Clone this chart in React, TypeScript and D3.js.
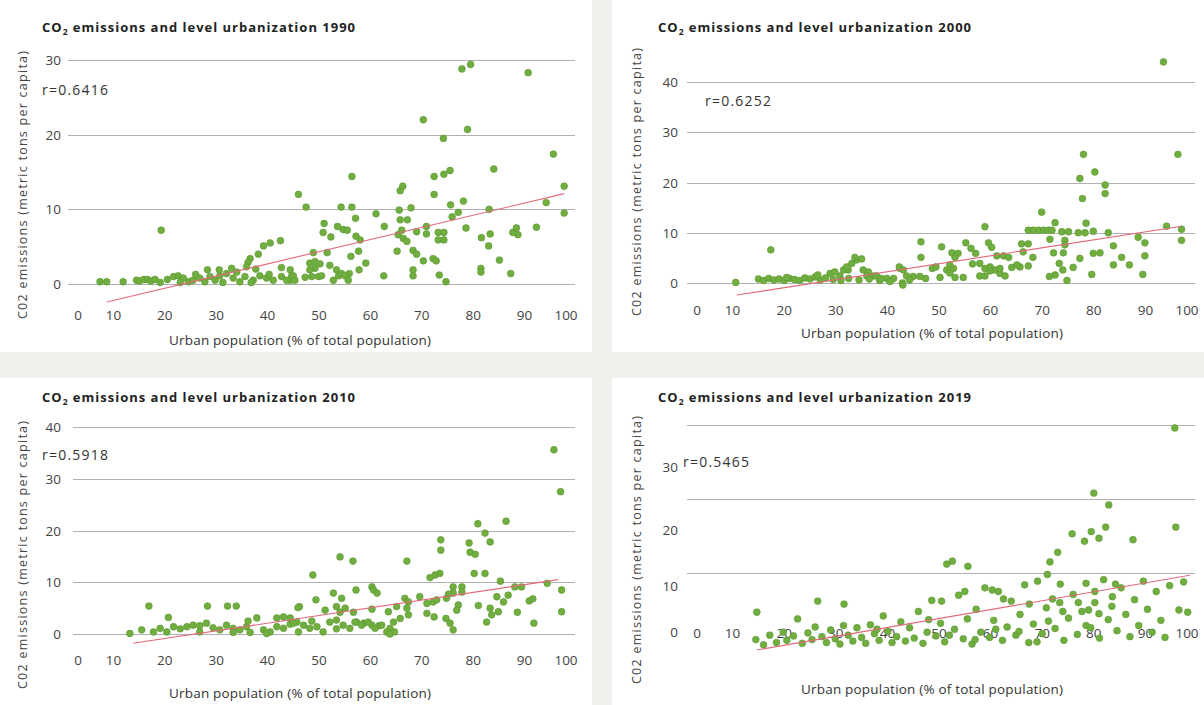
import React from 'react';
import * as d3 from 'd3';

type Pt = [number, number];

const titleBase = 'emissions and level urbanization';
const years = ['1990', '2000', '2010', '2019'];
const rLabels = ['r=0.6416', 'r=0.6252', 'r=0.5918', 'r=0.5465'];
const xTicks = [0, 10, 20, 30, 40, 50, 60, 70, 80, 90, 100];
const yTicks1990 = [0, 10, 20, 30];
const yTicks2000 = [0, 10, 20, 30, 40];
const yTicks2010 = [0, 10, 20, 30, 40];
const yTicks2019 = [0, 10, 20, 30];
const xTitle = 'Urban population (% of total population)';
const yTitle = 'C02 emissions (metric tons per capita)';

const pts1990: Pt[] = [
  [77.8, 28.8], [79.5, 29.4], [90.7, 28.3], [70.3, 22.0], [78.9, 20.7], [74.2, 19.5], [95.6, 17.4], [56.4, 14.4],
  [72.4, 14.4], [74.3, 14.7], [75.5, 15.2], [84.0, 15.4], [46.0, 12.0], [97.7, 13.1], [65.8, 12.5], [66.3, 13.1],
  [72.4, 12.0], [19.3, 7.2],
  [47.5, 10.3], [54.3, 10.3], [56.4, 10.3], [65.6, 9.9], [67.9, 10.2], [75.6, 10.6], [78.1, 11.1], [77.1, 9.6],
  [75.9, 9.0], [83.1, 10.0], [94.2, 10.9], [97.7, 9.5], [61.1, 9.4], [57.1, 8.8], [51.0, 8.1], [65.8, 8.6],
  [67.2, 8.6], [53.6, 7.7], [54.7, 7.3], [55.5, 7.2], [50.8, 6.9], [52.3, 6.3], [57.2, 6.4], [58.0, 5.9],
  [62.7, 7.7], [66.1, 7.2], [65.4, 6.6], [66.4, 6.1], [67.1, 5.7], [69.0, 7.0], [70.9, 7.7], [70.9, 6.7],
  [73.2, 6.9], [74.3, 6.9], [73.2, 5.9], [74.3, 5.9], [78.6, 7.5], [81.6, 6.2], [83.3, 6.7], [83.0, 5.1],
  [87.7, 6.9], [88.4, 7.5], [88.7, 6.6], [92.3, 7.6],
  [48.9, 4.2], [51.6, 4.2], [56.2, 3.7], [57.7, 4.4], [59.1, 2.8], [65.2, 4.4], [68.3, 4.5], [69.0, 4.0],
  [70.3, 3.1], [72.2, 3.4], [72.8, 3.1], [85.1, 3.2], [81.5, 2.1], [81.5, 1.6], [87.3, 1.4], [73.4, 1.2],
  [74.7, 0.3], [68.3, 1.9], [68.3, 1.1], [62.6, 1.1], [57.8, 1.9], [55.9, 1.4],
  [48.2, 2.8], [49.2, 3.0], [50.2, 2.7], [49.2, 2.1], [48.2, 1.9], [47.3, 0.9], [48.6, 1.0], [49.9, 1.0],
  [50.5, 1.1], [52.8, 0.5], [53.8, 1.1], [54.4, 1.4], [55.1, 1.1], [55.7, 0.5], [52.1, 2.5], [53.4, 1.9],
  [44.4, 1.9], [44.7, 1.1], [44.4, 0.5],
  [42.5, 5.8], [40.5, 5.5], [39.2, 5.1], [38.2, 4.0], [36.6, 3.4], [36.2, 2.9], [37.7, 2.0], [35.9, 2.3],
  [28.3, 1.9], [30.6, 1.9], [33.0, 2.1], [42.7, 2.2], [45.0, 1.1], [45.3, 0.5], [7.4, 0.3], [8.7, 0.3],
  [11.9, 0.3], [14.5, 0.5], [15.1, 0.4], [15.9, 0.6], [16.6, 0.6], [17.3, 0.4], [18.1, 0.6], [19.1, 0.2],
  [21.7, 1.0], [22.6, 1.1], [23.6, 0.8], [24.6, 0.3], [25.5, 0.5], [26.8, 0.8], [27.8, 0.3], [28.8, 1.0],
  [29.8, 0.5], [30.7, 1.1], [32.0, 1.4], [33.3, 0.8], [34.6, 0.3], [35.6, 1.0], [37.2, 0.5], [38.5, 1.1],
  [39.8, 0.8], [41.1, 0.5], [42.7, 1.0], [43.7, 0.5], [20.5, 0.6], [23.0, 0.2], [26.0, 1.3], [31.3, 0.2],
  [34.0, 1.6], [36.8, 0.2], [40.3, 1.3],
];
const trend1990: Pt[] = [[8.7, -2.4], [97.7, 12.1]];

const pts2000: Pt[] = [
  [93.5, 44.0], [78.0, 25.6], [96.3, 25.6], [80.2, 22.1], [77.3, 20.8], [77.8, 16.8], [82.2, 19.5], [82.2, 17.8],
  [69.9, 14.1], [72.5, 12.0], [78.5, 11.9], [94.1, 11.3], [97.0, 10.7], [97.0, 8.5], [58.9, 11.2],
  [67.3, 10.5], [68.3, 10.5], [69.3, 10.5], [70.3, 10.5], [71.2, 10.5], [71.9, 10.5], [73.8, 10.2], [75.1, 10.2],
  [77.0, 10.0], [78.3, 10.0], [79.9, 10.3], [82.8, 10.0], [88.6, 9.1], [89.9, 8.0], [89.9, 5.4], [89.5, 1.7],
  [83.8, 7.4], [83.8, 3.6], [85.4, 5.1], [86.9, 3.6], [79.9, 5.9], [81.2, 6.0], [77.3, 4.9], [76.0, 3.1],
  [79.6, 1.7], [74.4, 8.5], [74.4, 7.6], [74.1, 6.0], [72.2, 6.0], [73.3, 3.9], [74.0, 2.6], [74.8, 0.5],
  [71.4, 1.3], [72.5, 1.6], [71.5, 8.7], [66.0, 7.8], [67.3, 7.8], [66.3, 6.2], [68.2, 5.1], [67.3, 3.4],
  [65.7, 3.2], [59.6, 8.0], [60.2, 7.1], [61.2, 5.4], [62.5, 5.4], [63.5, 5.1], [64.1, 3.1], [65.1, 3.6],
  [57.9, 3.9], [58.9, 2.9], [59.9, 3.2], [60.8, 2.6], [61.8, 1.9], [62.8, 1.4], [57.9, 1.4], [58.9, 1.4],
  [59.9, 2.4], [61.8, 2.9], [55.2, 8.0], [56.2, 6.9], [57.1, 5.9], [56.5, 3.8], [52.5, 6.0], [53.7, 5.9],
  [50.5, 7.2], [53.1, 5.1], [52.1, 3.6], [52.8, 2.9], [51.5, 2.6], [52.1, 2.0], [53.1, 1.1], [54.7, 1.1],
  [50.2, 1.1], [48.7, 2.9], [49.4, 3.2], [46.5, 8.2], [46.5, 5.1], [42.4, 2.9], [43.7, 1.4], [45.0, 1.3],
  [46.3, 1.3], [47.4, 0.9], [42.9, 0.0], [44.3, 0.6],
  [17.4, 6.6], [10.6, 0.1], [28.9, 1.9], [29.8, 2.2], [30.8, 1.4], [31.5, 2.6], [32.4, 2.6], [32.1, 3.2],
  [33.1, 3.9], [34.0, 4.6], [35.0, 4.8], [33.7, 5.1], [35.3, 2.6], [36.3, 2.2], [37.3, 1.4], [37.9, 1.4],
  [36.0, 1.4], [42.3, 3.2], [43.1, 2.6], [43.0, -0.4], [39.9, 0.9], [41.2, 0.9],
  [15.0, 0.8], [16.0, 0.5], [17.0, 0.9], [18.0, 0.6], [19.0, 0.8], [20.0, 0.5], [21.0, 0.9], [22.0, 0.7],
  [23.0, 0.5], [24.0, 1.0], [25.0, 0.8], [26.0, 1.2], [27.0, 0.6], [28.0, 1.0], [29.5, 0.7], [31.0, 0.5],
  [32.5, 0.9], [34.5, 0.6], [36.5, 0.8], [38.5, 0.5], [40.5, 0.3], [26.5, 1.6], [20.5, 1.1], [38.8, 0.9],
];
const trend2000: Pt[] = [[10.8, -2.4], [97.0, 11.3]];

const pts2010: Pt[] = [
  [95.7, 35.6], [97.0, 27.5], [80.9, 21.3], [86.4, 21.8], [82.3, 19.5], [73.7, 18.2], [79.2, 17.6], [83.3, 17.8],
  [73.7, 16.2], [79.4, 15.8], [80.4, 15.4], [54.1, 14.9], [56.6, 14.1], [67.1, 14.1], [48.8, 11.4], [71.6, 10.9],
  [72.6, 11.4], [73.5, 11.7], [80.2, 11.7], [82.3, 11.7], [85.3, 10.2], [88.1, 9.1], [89.4, 9.1], [94.4, 9.8],
  [97.2, 8.5], [97.2, 4.3], [76.1, 9.1], [77.8, 9.1], [77.8, 8.1], [76.1, 7.9], [57.2, 8.5], [60.3, 9.1],
  [60.6, 8.5], [61.3, 7.9], [52.8, 7.9], [54.4, 6.9], [49.4, 6.6], [46.2, 5.3], [51.2, 4.6], [53.4, 5.3],
  [55.1, 5.0], [56.7, 4.2], [54.1, 4.2],
  [60.3, 4.8], [63.5, 4.3], [65.1, 5.3], [66.7, 6.9], [67.4, 6.2], [67.1, 5.0], [67.4, 3.7], [65.8, 3.0],
  [64.5, 2.3], [63.8, 1.1], [64.7, 0.4], [61.7, 1.6], [60.3, 1.7], [58.7, 2.1], [57.3, 2.3],
  [69.6, 7.2], [71.0, 5.9], [72.2, 6.2], [72.9, 6.6], [71.0, 4.0], [72.4, 3.3], [74.7, 3.0], [75.5, 2.1],
  [76.1, 0.8], [77.1, 5.6], [76.8, 4.6], [75.2, 7.7], [74.8, 6.9],
  [81.0, 5.5], [83.3, 5.0], [83.6, 3.7], [84.9, 4.3], [82.6, 2.3], [84.6, 7.2], [85.9, 6.2], [86.8, 7.5],
  [88.6, 4.2], [90.9, 6.4], [91.6, 6.8], [91.8, 2.1],
  [44.4, 1.9], [45.7, 2.3], [47.0, 1.7], [48.2, 1.1], [49.6, 1.4], [50.8, 0.4], [52.1, 2.3], [53.4, 1.0],
  [54.7, 1.7], [56.0, 1.1], [57.0, 2.3], [58.3, 1.7], [59.6, 2.3], [60.9, 1.1], [62.2, 1.7], [63.2, 0.4],
  [63.8, 0.0], [46.0, 0.4], [48.6, 2.5], [53.4, 2.7],
  [16.9, 5.4], [28.3, 5.4], [32.2, 5.4], [33.9, 5.4], [20.7, 3.2], [45.9, 5.1], [13.2, 0.1], [15.5, 0.8],
  [17.8, 0.4], [19.1, 1.1], [20.4, 0.4], [21.7, 1.4], [23.0, 1.0], [24.3, 1.4], [25.5, 1.7], [26.8, 1.6],
  [28.1, 2.1], [29.4, 1.2], [30.7, 0.8], [32.0, 1.7], [33.3, 1.1], [34.6, 0.8], [35.9, 1.4], [36.2, 2.5],
  [37.9, 3.1], [39.2, 0.8], [40.5, 0.4], [41.8, 3.1], [43.1, 3.3], [44.4, 3.1], [45.0, 2.1], [41.8, 1.4],
  [43.1, 1.1], [33.3, 0.3], [36.6, 0.3], [39.8, 0.1], [26.8, 0.4],
];
const trend2010: Pt[] = [[13.8, -1.8], [96.5, 10.5]];

const pts2019: Pt[] = [
  [95.7, 29.6], [95.9, 16.2], [80.0, 20.8], [82.9, 19.2], [87.6, 14.5], [75.8, 15.3], [78.2, 14.3], [79.5, 15.6],
  [81.0, 14.7], [82.3, 16.2], [71.5, 11.5], [73.0, 12.8],
  [51.5, 11.2], [52.6, 11.6], [55.6, 10.9], [58.9, 8.0], [61.5, 7.5], [66.6, 8.4], [69.1, 8.9], [71.0, 9.8],
  [73.5, 8.5], [76.0, 7.1], [78.5, 8.6], [80.2, 7.5], [81.9, 9.1], [84.2, 8.5], [85.3, 8.0], [89.6, 8.9],
  [92.1, 7.5], [94.7, 8.3], [97.4, 8.8],
  [14.7, 4.7], [22.6, 3.8], [26.5, 6.2], [31.6, 5.8], [39.2, 4.2], [46.0, 4.8], [48.6, 6.3], [50.5, 6.2],
  [53.8, 7.0], [55.0, 7.5], [57.2, 5.1], [60.3, 7.7], [62.5, 6.5], [64.0, 6.2], [65.7, 4.4], [67.5, 5.8],
  [70.8, 5.3], [72.0, 6.5], [73.4, 6.0], [74.0, 4.8], [77.0, 6.0], [77.7, 4.8], [79.0, 5.0], [80.2, 6.0],
  [81.0, 4.5], [83.5, 5.5], [83.6, 6.8], [86.2, 4.4], [87.9, 6.4], [90.4, 5.1], [96.5, 5.0], [98.2, 4.7],
  [14.5, 1.0], [16.0, 0.3], [17.2, 1.6], [18.5, 0.6], [19.8, 2.0], [20.5, 0.9], [21.8, 1.5], [23.5, 0.5],
  [24.6, 1.9], [25.4, 1.0], [27.3, 1.4], [28.2, 0.6], [29.0, 2.3], [29.9, 1.1], [30.8, 0.4], [32.4, 1.6],
  [33.3, 0.8], [34.1, 2.6], [35.0, 1.3], [35.8, 0.5], [36.7, 3.0], [37.5, 1.8], [38.4, 0.9], [40.1, 2.1],
  [40.9, 0.6], [41.8, 1.4], [42.6, 3.4], [43.5, 0.8], [44.3, 2.6], [45.2, 1.2], [46.9, 0.5], [47.7, 2.0],
  [49.4, 1.5], [50.3, 3.2], [51.1, 0.7], [53.0, 2.4], [54.7, 1.1], [55.5, 3.8], [56.4, 0.4], [58.1, 2.0],
  [59.8, 1.3], [60.6, 3.6], [62.3, 0.9], [63.2, 2.7], [64.9, 1.6], [67.4, 0.6], [68.3, 3.1], [70.0, 1.8],
  [72.5, 2.5], [74.2, 0.9], [75.1, 3.9], [76.8, 1.7], [78.5, 2.9], [79.4, 2.6], [81.1, 1.2], [82.8, 3.7],
  [84.5, 2.2], [87.0, 1.4], [88.7, 2.9], [91.3, 2.0], [93.0, 3.6], [93.8, 1.3], [65.5, 2.1], [69.0, 0.7],
  [71.2, 3.5], [57.0, 1.0], [61.0, 2.4], [52.0, 1.6], [48.0, 3.7], [38.0, 2.4], [31.5, 2.9], [26.0, 2.7],
];
const trend2019: Pt[] = [[14.7, -0.4], [98.6, 9.7]];

const seriesPts = [pts1990, pts2000, pts2010, pts2019];
const seriesTrend = [trend1990, trend2000, trend2010, trend2019];
const seriesYTicks = [yTicks1990, yTicks2000, yTicks2010, yTicks2019];
const seriesGridTicks = [yTicks1990, yTicks2000, yTicks2010, [10, 20, 30]];

// layout (pixel positions only)
const layouts = [
  { bg: [0, 0, 592, 352], xr: [62, 576], gx: [68, 575], yd: [0, 30], yr: [284, 60], lyr: null as null | number[],
    yLabX: 61, xLabY: 320, title: [42, 32], r: [42, 95], yT: [27, 185], xT: [300, 345] },
  { bg: [612, 0, 592, 352], xr: [681, 1197], gx: [687, 1195], yd: [0, 40], yr: [283, 82], lyr: null,
    yLabX: 678, xLabY: 315, title: [658, 32], r: [705, 106], yT: [641, 182], xT: [932, 338] },
  { bg: [0, 378, 592, 327], xr: [62, 576], gx: [73, 575], yd: [0, 40], yr: [634, 427], lyr: null,
    yLabX: 61, xLabY: 665, title: [42, 402], r: [42, 460], yT: [27, 555], xT: [300, 698] },
  { bg: [612, 378, 592, 327], xr: [681, 1197], gx: [687, 1195], yd: [0, 30], yr: [647, 425], lyr: [632, 586, 530, 467],
    yLabX: 678, xLabY: 638, title: [658, 402], r: [683, 467], yT: [641, 550], xT: [932, 694] },
];

const FONT = '"Open Sans", "Noto Sans", sans-serif';
const GREEN = '#6fae3f';
const GREEN_STROKE = '#5c9733';
const TREND = '#e2697a';
const GRID = '#b0b0b0';
const TICK = '#444';

function Panel({ i }: { i: number }) {
  const L = layouts[i];
  const x = d3.scaleLinear().domain([0, 100]).range(L.xr);
  const y = d3.scaleLinear().domain(L.yd).range(L.yr);
  const ticks = seriesYTicks[i];
  const labelY = (t: number, k: number) => (L.lyr ? L.lyr[k] : y(t));
  const line = d3.line<Pt>().x(d => x(d[0])).y(d => y(d[1]));
  const xLab = (v: number) => Math.min(Math.max(x(v), L.xr[0] + 16), L.xr[1] - 10);
  return (
    <g>
      <rect x={L.bg[0]} y={L.bg[1]} width={L.bg[2]} height={L.bg[3]} fill="#ffffff" />
      {seriesGridTicks[i].map(t => (
        <rect key={'g' + t} x={L.gx[0]} y={Math.round(y(t))} width={L.gx[1] - L.gx[0]} height={1} fill={GRID} />
      ))}
      <text x={L.title[0]} y={L.title[1]} fontFamily={FONT} fontWeight={700} fontSize={13} fill="#222"
        textLength={313} lengthAdjust="spacing">
        CO<tspan fontSize={8.5} dy={3}>2</tspan><tspan dy={-3}>{' ' + titleBase + ' ' + years[i]}</tspan>
      </text>
      {ticks.map((t, k) => (
        <text key={'yl' + t} x={L.yLabX} y={labelY(t, k) + 5} textAnchor="end" fontFamily={FONT} fontSize={13.5} fill={TICK}>{t}</text>
      ))}
      {xTicks.map(t => (
        <text key={'xl' + t} x={xLab(t)} y={L.xLabY} textAnchor="middle" fontFamily={FONT} fontSize={13.5} fill={TICK}>{t}</text>
      ))}
      <text x={L.r[0]} y={L.r[1]} fontFamily={FONT} fontSize={14} fill="#333" textLength={66} lengthAdjust="spacing">{rLabels[i]}</text>
      <text transform={`translate(${L.yT[0]},${L.yT[1]}) rotate(-90)`} textAnchor="middle" fontFamily={FONT} fontSize={12.5}
        fill="#444" textLength={268} lengthAdjust="spacing">{yTitle}</text>
      <text x={L.xT[0]} y={L.xT[1]} textAnchor="middle" fontFamily={FONT} fontSize={13.5} fill="#333"
        textLength={262} lengthAdjust="spacing">{xTitle}</text>
      {seriesPts[i].map((p, k) => (
        <circle key={k} cx={x(p[0])} cy={y(p[1])} r={3.4} fill={GREEN} stroke={GREEN_STROKE} strokeWidth={0.6} />
      ))}
      <path d={line(seriesTrend[i]) || ''} fill="none" stroke={TREND} strokeWidth={1.1} />
    </g>
  );
}

export default function App() {
  return (
    <svg width={1204} height={705} style={{ position: 'absolute', left: 0, top: 0 }}>
      <rect x={0} y={0} width={1204} height={705} fill="#eef1ec" />
      {[0, 1, 2, 3].map(i => <Panel key={i} i={i} />)}
    </svg>
  );
}
